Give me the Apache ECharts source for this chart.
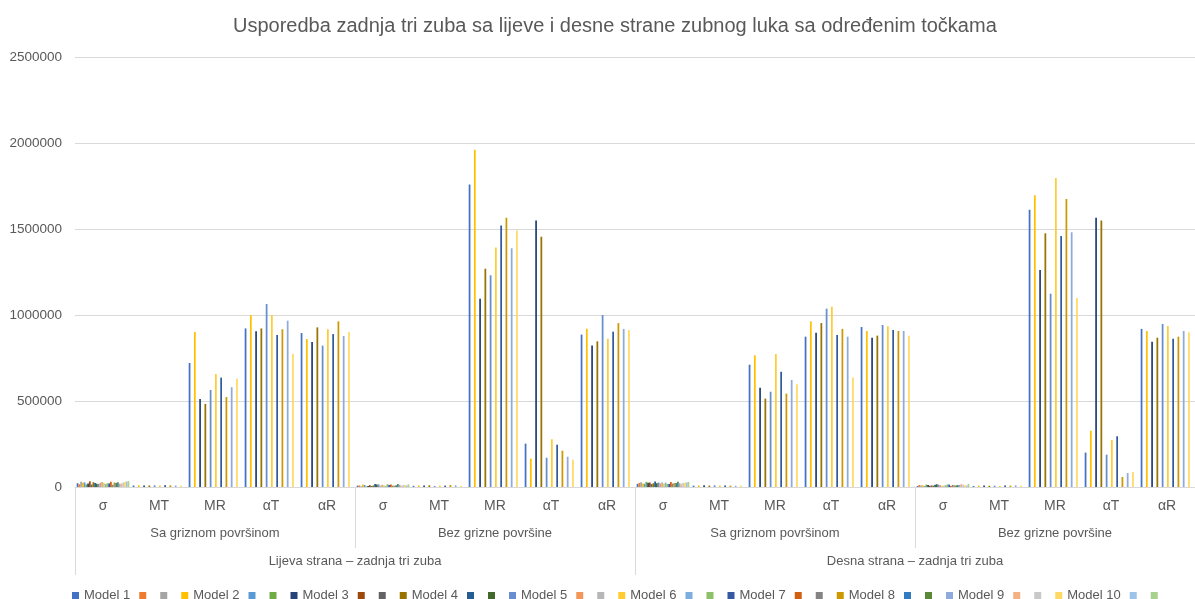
<!DOCTYPE html>
<html>
<head>
<meta charset="utf-8">
<script src="https://cdn.jsdelivr.net/npm/echarts@6/dist/echarts.min.js"></script>
<style>
  html, body { margin: 0; padding: 0; background: #fff; }
  #main { width: 1195px; height: 599px; }
</style>
</head>
<body>
<div id="main"></div>
<script>
// kategorije (tri razine osi x)
var points = ['σ', 'MT', 'MR', 'αT', 'αR'];
var surfaces = ['Sa griznom površinom', 'Bez grizne površine', 'Sa griznom površinom', 'Bez grizne površine'];
var sides = ['Lijeva strana – zadnja tri zuba', 'Desna strana – zadnja tri zuba'];

var yTicks = [0, 500000, 1000000, 1500000, 2000000, 2500000];

// vrijednosti po modelu: L-Sa (σ,MT,MR,αT,αR), L-Bez, D-Sa, D-Bez
var model1  = [22000, 9000, 721000, 922000, 895000,   8000, 7000, 1758000, 252000, 886000,   18000, 8000, 711000, 874000, 930000,   6000, 6000, 1612000, 200000, 919000];
var model2  = [25000, 10000, 901000, 1000000, 860000, 14000, 9000, 1961000, 165000, 920000,   20000, 9000, 765000, 963000, 907000,   10000, 8000, 1696000, 327000, 907000];
var model3  = [20000, 8000, 512000, 905000, 843000,   6000, 8000, 1095000, 1550000, 822000,  24000, 10000, 577000, 897000, 868000,  12000, 9000, 1262000, 1566000, 845000];
var model4  = [28000, 9000, 483000, 922000, 928000,   9000, 10000, 1269000, 1455000, 847000, 22000, 8000, 514000, 953000, 880000,   8000, 7000, 1475000, 1550000, 868000];
var model5  = [18000, 10000, 564000, 1064000, 822000, 15000, 6000, 1231000, 170000, 1000000, 26000, 10000, 554000, 1037000, 942000, 13000, 8000, 1124000, 188000, 948000];
var model6  = [24000, 9000, 657000, 1000000, 917000,  10000, 9000, 1393000, 277000, 862000,   20000, 8000, 773000, 1048000, 934000,  9000, 6000, 1796000, 273000, 936000];
var model7  = [21000, 11000, 636000, 884000, 889000,  12000, 8000, 1521000, 246000, 903000,   18000, 9000, 670000, 884000, 913000,   14000, 9000, 1459000, 295000, 862000];
var model8  = [26000, 10000, 523000, 917000, 963000,  8000, 12000, 1566000, 211000, 953000,   23000, 8000, 543000, 919000, 907000,   10000, 8000, 1674000, 58000, 874000];
var model9  = [19000, 9000, 580000, 967000, 878000,   13000, 10000, 1388000, 176000, 919000,  22000, 7000, 622000, 874000, 907000,   12000, 10000, 1481000, 81000, 907000];
var model10 = [30000, 8000, 630000, 775000, 901000,   11000, 6000, 1492000, 159000, 913000,   25000, 9000, 597000, 636000, 880000,   10000, 7000, 1099000, 87000, 900000];
var models = [model1, model2, model3, model4, model5, model6, model7, model8, model9, model10];

// dodatne serije bez imena - imaju samo σ (L-Sa, L-Bez, D-Sa, D-Bez)
var sigmaExtra = [
  [16000, 9000, 24000, 12000], [31000, 4000, 28000, 8000],
  [27000, 12000, 19000, 5000], [15000, 3000, 30000, 14000],
  [33000, 11000, 26000, 7000], [14000, 6000, 17000, 9000],
  [23000, 18000, 32000, 13000], [19000, 15000, 22000, 16000],
  [25000, 7000, 21000, 11000], [29000, 13000, 27000, 4000],
  [17000, 5000, 25000, 10000], [22000, 16000, 18000, 15000],
  [30000, 14000, 29000, 6000], [13000, 8000, 20000, 12000],
  [24000, 10000, 23000, 9000], [28000, 17000, 31000, 11000],
  [20000, 6000, 16000, 17000], [26000, 12000, 24000, 13000],
  [32000, 9000, 27000, 8000], [34000, 15000, 30000, 18000]
];

var colors = ['#4472C4', '#ED7D31', '#A5A5A5', '#FFC000', '#5B9BD5', '#70AD47',
  '#264478', '#9E480E', '#636363', '#997300', '#255E91', '#43682B',
  '#698ED0', '#F1975A', '#B7B7B7', '#FFCD33', '#7CAFDD', '#8CC168',
  '#335AA1', '#D26012', '#848484', '#CC9A00', '#327DC2', '#5A8A39',
  '#8FAADC', '#F4B183', '#C9C9C9', '#FFD966', '#9DC3E6', '#A9D18E'];

var categories = [];
for (var g = 0; g < 4; g++) categories = categories.concat(points);

var textColor = '#595959';
var lineColor = '#d9d9d9';
var font = 'Liberation Sans';

var series = [];
var legendNames = [];
var extraIdx = 0;
for (var i = 0; i < 30; i++) {
  var name, data;
  if (i % 3 === 0) {
    name = 'Model ' + (i / 3 + 1);
    data = models[i / 3];
  } else {
    name = new Array(extraIdx + 2).join('\u200B');
    var s = sigmaExtra[extraIdx];
    data = [];
    for (var k = 0; k < 20; k++) data.push(k % 5 === 0 ? s[k / 5] : null);
    extraIdx++;
  }
  legendNames.push(name);
  series.push({
    name: name,
    type: 'bar',
    data: data,
    barGap: '0%',
    barCategoryGap: '6%',
    itemStyle: { color: colors[i] },
    animation: false
  });
}

var myChart = echarts.init(document.getElementById('main'));

var option = {
  title: {
    text: 'Usporedba zadnja tri zuba sa lijeve i desne strane zubnog luka sa određenim točkama',
    left: 228,
    top: 11,
    textStyle: { color: textColor, fontSize: 20, fontWeight: 'normal', fontFamily: font }
  },
  legend: {
    data: legendNames,
    left: 67,
    top: 584,
    icon: 'rect',
    itemWidth: 7,
    itemHeight: 7,
    itemGap: 9,
    textStyle: { color: textColor, fontSize: 13, fontFamily: font }
  },
  grid: { left: 75, right: -12, top: 57, bottom: 112 },
  xAxis: [
    {
      type: 'category',
      data: categories,
      axisLine: { lineStyle: { color: lineColor } },
      axisTick: { show: false },
      axisLabel: { interval: 0, margin: 12, color: textColor, fontSize: 14, fontFamily: font }
    },
    {
      type: 'category',
      data: surfaces,
      position: 'bottom',
      axisLine: { show: false },
      axisTick: { show: true, interval: 0, length: 61, lineStyle: { color: lineColor } },
      axisLabel: { interval: 0, margin: 40, color: textColor, fontSize: 13, fontFamily: font }
    },
    {
      type: 'category',
      data: sides,
      position: 'bottom',
      axisLine: { show: false },
      axisTick: { show: true, interval: 0, length: 88, lineStyle: { color: lineColor } },
      axisLabel: { interval: 0, margin: 68, color: textColor, fontSize: 13, fontFamily: font }
    }
  ],
  yAxis: {
    type: 'value',
    min: yTicks[0],
    max: yTicks[yTicks.length - 1],
    interval: 500000,
    axisLine: { show: false },
    axisTick: { show: false },
    splitLine: { lineStyle: { color: lineColor } },
    axisLabel: {
      margin: 13, color: textColor, fontSize: 13.5, fontFamily: font,
      formatter: function (v) { return String(v); }
    }
  },
  series: series
};

myChart.setOption(option);
</script>
</body>
</html>
